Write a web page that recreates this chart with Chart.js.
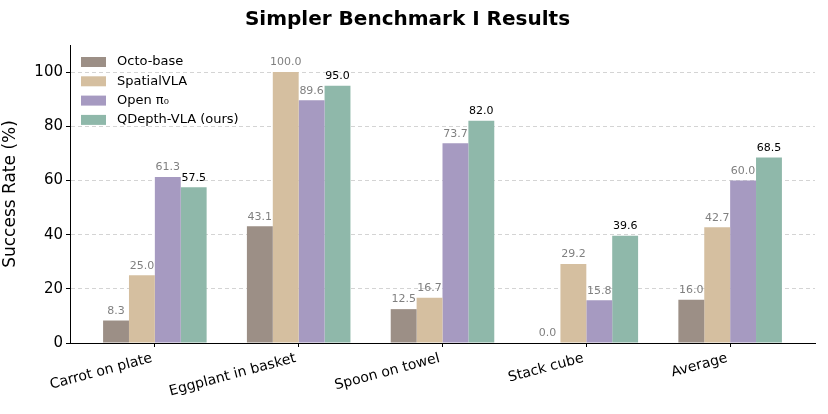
<!DOCTYPE html>
<html>
<head>
<meta charset="utf-8">
<script src="https://cdn.jsdelivr.net/npm/chart.js@4/dist/chart.umd.min.js"></script>
<style>
  html, body { margin: 0; padding: 0; background: #fff; }
  #wrap { width: 828px; height: 414px; }
</style>
</head>
<body>
<div id="wrap"><canvas id="benchChart"></canvas></div>
<script>
const categories = ['Carrot on plate', 'Eggplant in basket', 'Spoon on towel', 'Stack cube', 'Average'];
const octoBase = [8.3, 43.1, 12.5, 0.0, 16.0];
const spatialVLA = [25.0, 100.0, 16.7, 29.2, 42.7];
const openPi0 = [61.3, 89.6, 73.7, 15.8, 60.0];
const qdepthVLA = [57.5, 95.0, 82.0, 39.6, 68.5];
const seriesNames = ['Octo-base', 'SpatialVLA', 'Open π₀', 'QDepth-VLA (ours)'];
const seriesColors = ['#9c8f86', '#d5bfa0', '#a69ac1', '#8fb8aa'];
const yTicks = [0, 20, 40, 60, 80, 100];

const ctxBench = document.getElementById('benchChart');
const font = 'DejaVu Sans';

const toPoints = vals => vals.map((v, i) => ({ x: i, y: v }));

// value labels above each bar
const barLabels = {
    id: 'barLabels',
    afterDatasetsDraw(chart) {
        const c = chart.ctx;
        c.save();
        c.font = '11px "' + font + '"';
        c.textAlign = 'center';
        c.textBaseline = 'bottom';
        chart.data.datasets.forEach((ds, di) => {
            c.fillStyle = di === 3 ? '#000000' : '#808080';
            chart.getDatasetMeta(di).data.forEach((bar, i) => {
                c.fillText(ds.data[i].y.toFixed(1), bar.x, bar.y - 4);
            });
        });
        c.restore();
    }
};

// legend drawn inside the plot, top left
const insideLegend = {
    id: 'insideLegend',
    afterDraw(chart) {
        const c = chart.ctx;
        c.save();
        c.font = '13px "' + font + '"';
        c.textBaseline = 'middle';
        c.textAlign = 'left';
        seriesNames.forEach((name, i) => {
            const y = 62 + i * 19.3;
            c.fillStyle = seriesColors[i];
            c.fillRect(81, y - 5, 25, 10);
            c.fillStyle = '#000';
            c.fillText(name, 117, y);
        });
        c.restore();
    }
};

const chart = new Chart(ctxBench, {
    type: 'bar',
    data: {
        datasets: [
            { label: seriesNames[0], data: toPoints(octoBase), backgroundColor: seriesColors[0] },
            { label: seriesNames[1], data: toPoints(spatialVLA), backgroundColor: seriesColors[1] },
            { label: seriesNames[2], data: toPoints(openPi0), backgroundColor: seriesColors[2] },
            { label: seriesNames[3], data: toPoints(qdepthVLA), backgroundColor: seriesColors[3] },
        ]
    },
    options: {
        responsive: true,
        maintainAspectRatio: false,
        animation: false,
        layout: { padding: { left: 0, right: 13, top: 0, bottom: 0 } },
        datasets: { bar: { categoryPercentage: 0.72, barPercentage: 1.0 } },
        plugins: {
            legend: { display: false },
            tooltip: { enabled: false },
            title: {
                display: true,
                text: 'Simpler Benchmark I Results',
                color: '#000',
                font: { family: font, size: 20, weight: 'bold' },
                padding: { top: 8, bottom: 13 }
            }
        },
        scales: {
            x: {
                type: 'linear',
                offset: false,
                min: -0.59,
                max: 4.59,
                afterBuildTicks: scale => { scale.ticks = categories.map((c, i) => ({ value: i })); },
                afterFit: scale => { scale.height = 71; },
                grid: { offset: false, drawOnChartArea: false, drawTicks: true, tickLength: 4, tickColor: '#000' },
                border: { color: '#000', width: 1 },
                ticks: {
                    autoSkip: false,
                    minRotation: 15,
                    maxRotation: 15,
                    labelOffset: -3,
                    color: '#000',
                    font: { family: font, size: 14 },
                    callback: v => categories[v]
                }
            },
            y: {
                min: 0,
                max: 110,
                afterBuildTicks: scale => { scale.ticks = yTicks.map(v => ({ value: v })); },
                afterFit: scale => { scale.width = 70; },
                grid: {
                    color: '#d4d4d4',
                    tickColor: '#000',
                    tickLength: 4,
                    tickBorderDash: []
                },
                border: { color: '#000', width: 1, dash: [4, 3] },
                ticks: { color: '#000', font: { family: font, size: 15 }, padding: 3 },
                title: {
                    display: true,
                    text: 'Success Rate (%)',
                    color: '#000',
                    font: { family: font, size: 17 },
                    padding: { top: 0, bottom: 4 }
                }
            }
        }
    },
    plugins: [barLabels, insideLegend]
});
</script>
</body>
</html>
